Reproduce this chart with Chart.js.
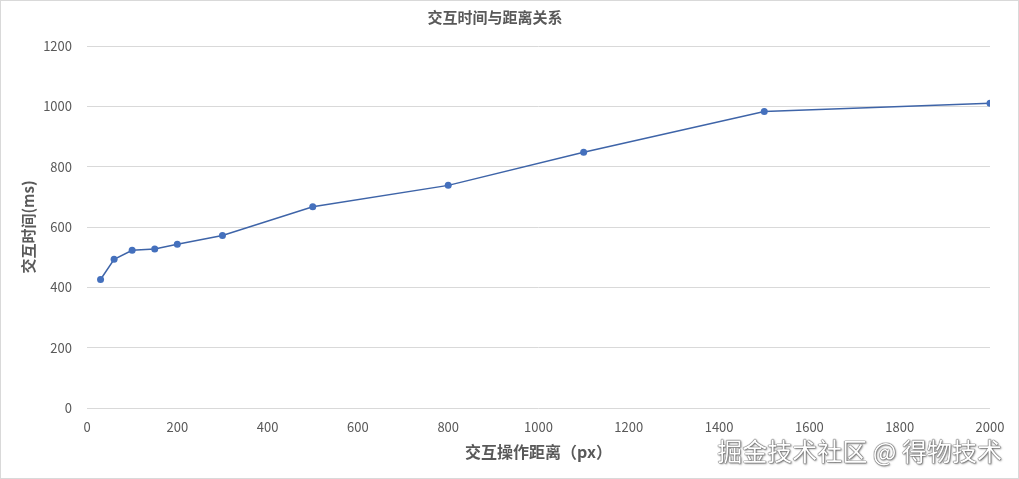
<!DOCTYPE html>
<html>
<head>
<meta charset="utf-8">
<script src="https://cdn.jsdelivr.net/npm/chart.js@4.4.1/dist/chart.umd.min.js"></script>
<style>
  html, body { margin: 0; padding: 0; background: #fff; }
  #wrap { position: relative; width: 1019px; height: 479px; }
  #c { position: absolute; left: 0; top: 0; }
  #frame { position: absolute; left: 0; top: 0; width: 1019px; height: 479px; box-sizing: border-box; border: 1px solid #d9d9d9; pointer-events: none; }
  #wm { position: absolute; right: 17px; top: 432px; font-family: "Noto Sans CJK SC", sans-serif; font-size: 25px; color: #fff;
        text-shadow: 0 0 1px #555, 0 0 1px #555, 0 0 1px #555, 1px 1px 2px #777; white-space: nowrap; }
</style>
</head>
<body>
<div id="wrap">
  <canvas id="c" width="1019" height="479"></canvas>
  <div id="frame"></div>
  <div id="wm">掘金技术社区 @ 得物技术</div>
</div>
<script>
const chartTitle = '交互时间与距离关系';
const xTitle = '交互操作距离（px）';
const yTitle = '交互时间(ms)';
const distances = [30, 60, 100, 150, 200, 300, 500, 800, 1100, 1500, 2000];
const times = [426, 493, 523, 527, 543, 572, 667, 738, 848, 983, 1010];

const points = distances.map((d, i) => ({ x: d, y: times[i] }));
const gray = '#595959';
const fontFam = '"Noto Sans CJK SC", "Noto Sans", sans-serif';

new Chart(document.getElementById('c'), {
  type: 'scatter',
  data: {
    datasets: [{
      data: points,
      showLine: true,
      borderColor: '#3e64a8',
      borderWidth: 1.5,
      backgroundColor: '#4470bd',
      pointRadius: 3.5,
      pointBorderWidth: 0,
      pointBackgroundColor: '#4470bd',
      tension: 0
    }]
  },
  options: {
    responsive: false,
    animation: false,
    layout: { padding: { left: 0, right: 29, top: 0, bottom: 0 } },
    plugins: {
      legend: { display: false },
      tooltip: { enabled: false },
      title: {
        display: true,
        text: chartTitle,
        color: gray,
        font: { family: fontFam, size: 15, weight: 'bold' },
        padding: { top: 8, bottom: 20 }
      }
    },
    scales: {
      x: {
        type: 'linear',
        min: 0, max: 2000,
        grid: { display: false, drawTicks: false },
        border: { display: false },
        ticks: { stepSize: 200, autoSkip: false, color: gray, padding: 11, font: { family: fontFam, size: 13 }, maxRotation: 0,
                 callback: v => String(v) },
        title: { display: true, text: xTitle, color: gray, font: { family: fontFam, size: 16, weight: 'bold' }, padding: { top: 17, bottom: 17 } },
        afterFit: s => { s.height = 71; }
      },
      y: {
        min: 0, max: 1200,
        grid: { color: '#d9d9d9', lineWidth: 1, drawTicks: false },
        border: { display: false },
        ticks: { stepSize: 200, autoSkip: false, color: gray, padding: 15, font: { family: fontFam, size: 13 },
                 callback: v => String(v) },
        title: { display: true, text: yTitle, color: gray, font: { family: fontFam, size: 15, weight: 'bold' }, padding: { top: 19, bottom: 19 } },
        afterFit: s => { s.width = 87; }
      }
    }
  }
});
</script>
</body>
</html>
